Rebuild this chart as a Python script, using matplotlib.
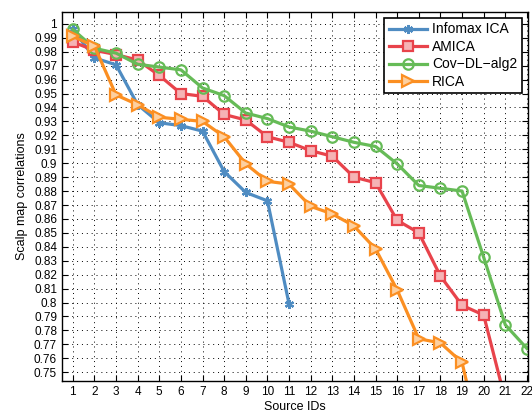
import matplotlib
matplotlib.use("Agg")
import matplotlib.pyplot as plt
import numpy as np

plt.rcParams['font.family'] = ['Liberation Sans', 'DejaVu Sans']

source_ids = list(range(1, 23))
infomax = [0.996, 0.9756, 0.9706, 0.942, 0.929, 0.927, 0.923, 0.894, 0.879, 0.873, 0.799]
amica = [0.987, 0.981, 0.978, 0.974, 0.963, 0.950, 0.948, 0.935, 0.931, 0.919, 0.915,
         0.909, 0.905, 0.890, 0.886, 0.859, 0.850, 0.819, 0.798, 0.791, 0.730]
covdl = [0.996, 0.9825, 0.979, 0.971, 0.969, 0.967, 0.954, 0.9485, 0.936, 0.932, 0.926,
         0.923, 0.919, 0.915, 0.912, 0.8995, 0.884, 0.882, 0.880, 0.8325, 0.784, 0.767]
rica = [0.991, 0.984, 0.949, 0.942, 0.933, 0.9315, 0.930, 0.919, 0.8995, 0.887, 0.885,
        0.869, 0.8636, 0.855, 0.8385, 0.809, 0.774, 0.771, 0.757, 0.69]
y_ticks = [round(0.75 + 0.01 * i, 2) for i in range(26)]
y_ticklabels = ['%g' % v for v in y_ticks]

fig = plt.figure(figsize=(5.32, 4.15), dpi=100)
ax = fig.add_axes([0.1165, 0.082, 0.876, 0.889])

series = [
    ('Infomax ICA', infomax, '#4f8cc2', (6, 2, 0), 6.5, '#4f8cc2'),
    ('AMICA', amica, '#e8434b', 's', 7, '#f5b3b5'),
    ('Cov\u2212DL\u2212alg2', covdl, '#66bb57', 'o', 7.5, 'none'),
    ('RICA', rica, '#fb8f22', '>', 8, '#fdd0a0'),
]
for name, vals, col, mk, ms, mfc in series:
    ax.plot(source_ids[:len(vals)], vals, color=col, lw=2.3, marker=mk,
            ms=ms, mfc=mfc, mec=col, mew=1.6, label=name)

ax.set_xlim(0.5, 22.05)
ax.set_ylim(0.7437, 1.0085)
ax.set_xticks(source_ids)
ax.set_yticks(y_ticks)
ax.set_yticklabels(y_ticklabels)
ax.tick_params(direction='in', top=True, right=True, labelsize=8.5, length=4, width=0.8)
ax.grid(True, linestyle=(0, (1, 4)), color='black', lw=0.7)
for s in ax.spines.values():
    s.set_linewidth(1.0)
ax.set_xlabel('Source IDs', fontsize=9, labelpad=2)
ax.set_ylabel('Scalp map correlations', fontsize=9, labelpad=4)

leg = ax.legend(loc='upper right', fontsize=10, fancybox=False, framealpha=1,
                edgecolor='black', handlelength=2.8, borderpad=0.3,
                labelspacing=0.25, handletextpad=0.35, borderaxespad=0.45)
leg.get_frame().set_linewidth(1.2)

fig.savefig('out.png', dpi=100)
